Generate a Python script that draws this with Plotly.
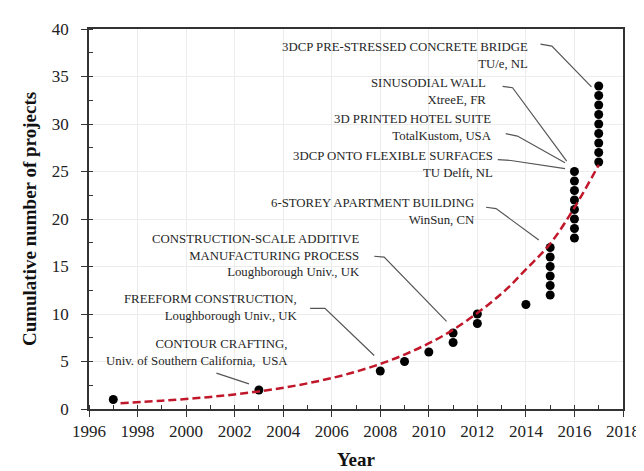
import plotly.graph_objects as go

# ---- data ----
point_years = [1997, 2003, 2008, 2009, 2010, 2011, 2011, 2012, 2012, 2014,
               2015, 2015, 2015, 2015, 2015, 2015,
               2016, 2016, 2016, 2016, 2016, 2016, 2016, 2016,
               2017, 2017, 2017, 2017, 2017, 2017, 2017, 2017, 2017]
point_counts = [1, 2, 4, 5, 6, 7, 8, 9, 10, 11,
                12, 13, 14, 15, 16, 17,
                18, 19, 20, 21, 22, 23, 24, 25,
                26, 27, 28, 29, 30, 31, 32, 33, 34]

trend_years = [1997.3, 1999, 2001, 2003, 2005, 2007, 2009, 2011, 2013, 2014, 2015, 2016, 2017.0]
trend_values = [0.6, 0.87, 1.27, 1.85, 2.7, 3.93, 5.73, 8.34, 12.15, 14.7, 17.4, 21.2, 25.7]

labels = [
    "3DCP PRE-STRESSED CONCRETE BRIDGE<br>TU/e, NL",
    "SINUSODIAL WALL<br>XtreeE, FR",
    "3D PRINTED HOTEL SUITE<br>TotalKustom, USA",
    "3DCP ONTO FLEXIBLE SURFACES<br>TU Delft, NL",
    "6-STOREY APARTMENT BUILDING<br>WinSun, CN",
    "CONSTRUCTION-SCALE ADDITIVE<br>MANUFACTURING PROCESS<br>Loughborough Univ., UK",
    "FREEFORM CONSTRUCTION,<br>Loughborough Univ., UK",
    "CONTOUR CRAFTING,<br>Univ. of Southern California,  USA",
]
label_x = [2014.18, 2012.45, 2012.67, 2012.71, 2011.94, 2007.26, 2004.70, 2004.30]
label_y = [37.25, 33.4, 29.67, 25.75, 20.81, 16.18, 10.64, 6.0]

leader_x = [
    [2014.60, 2015.07, 2016.70],
    [2013.04, 2013.45, 2015.68],
    [2013.17, 2013.65, 2015.61],
    [2012.84, 2013.38, 2015.61],
    [2012.36, 2012.77, 2014.53],
    [2007.75, 2008.16, 2010.73],
    [2005.11, 2005.72, 2007.75],
    [2001.25, 2002.59],
]
leader_y = [
    [38.40, 38.20, 33.90],
    [33.96, 33.82, 26.09],
    [28.98, 28.73, 25.92],
    [26.26, 26.16, 25.31],
    [21.24, 21.10, 17.78],
    [16.08, 15.98, 9.23],
    [10.59, 10.59, 5.63],
    [3.77, 2.65],
]

SERIF = "Liberation Serif"

fig = go.Figure()

# leader lines
lx, ly = [], []
for xs, ys in zip(leader_x, leader_y):
    lx += xs + [None]
    ly += ys + [None]
fig.add_trace(go.Scatter(x=lx, y=ly, mode="lines",
                         line=dict(color="#555555", width=1.2),
                         hoverinfo="skip", showlegend=False))

# project points
fig.add_trace(go.Scatter(x=point_years, y=point_counts, mode="markers",
                         marker=dict(color="black", size=9),
                         showlegend=False))

# exponential trend
fig.add_trace(go.Scatter(x=trend_years, y=trend_values, mode="lines",
                         line=dict(color="#c0182a", width=2.5, dash="8px,4px", shape="spline"),
                         showlegend=False))

for t, x, y in zip(labels, label_x, label_y):
    fig.add_annotation(x=x, y=y, xref="x", yref="y", text=t, showarrow=False,
                       xanchor="right", yanchor="middle", align="right",
                       font=dict(family=SERIF, size=12.8, color="#262626"))

axis_common = dict(
    showline=True, linecolor="#333333", linewidth=1.6, mirror=True,
    showgrid=True, gridcolor="#ececec", gridwidth=1,
    zeroline=False,
    ticks="outside", ticklen=6, tickwidth=1.3, tickcolor="#333333",
    tickfont=dict(family=SERIF, size=17, color="#222222"),
)

fig.update_xaxes(range=[1996, 2018], tick0=1996, dtick=2,
                 minor=dict(dtick=1, ticks="inside", ticklen=4, tickcolor="#333333", showgrid=False),
                 title=dict(text="<b>Year</b>", font=dict(family=SERIF, size=19, color="#111111"), standoff=12),
                 **axis_common)
fig.update_yaxes(range=[0, 40], tick0=0, dtick=5, ticklabelstandoff=9,
                 minor=dict(dtick=2.5, ticks="inside", ticklen=4, tickcolor="#333333", showgrid=False),
                 title=dict(text="<b>Cumulative number of projects</b>", font=dict(family=SERIF, size=19, color="#111111"), standoff=10),
                 **axis_common)

fig.update_layout(width=644, height=471,
                  margin=dict(l=81, r=22, t=15, b=63),
                  paper_bgcolor="white", plot_bgcolor="white",
                  showlegend=False)

fig.write_html("out.html")
